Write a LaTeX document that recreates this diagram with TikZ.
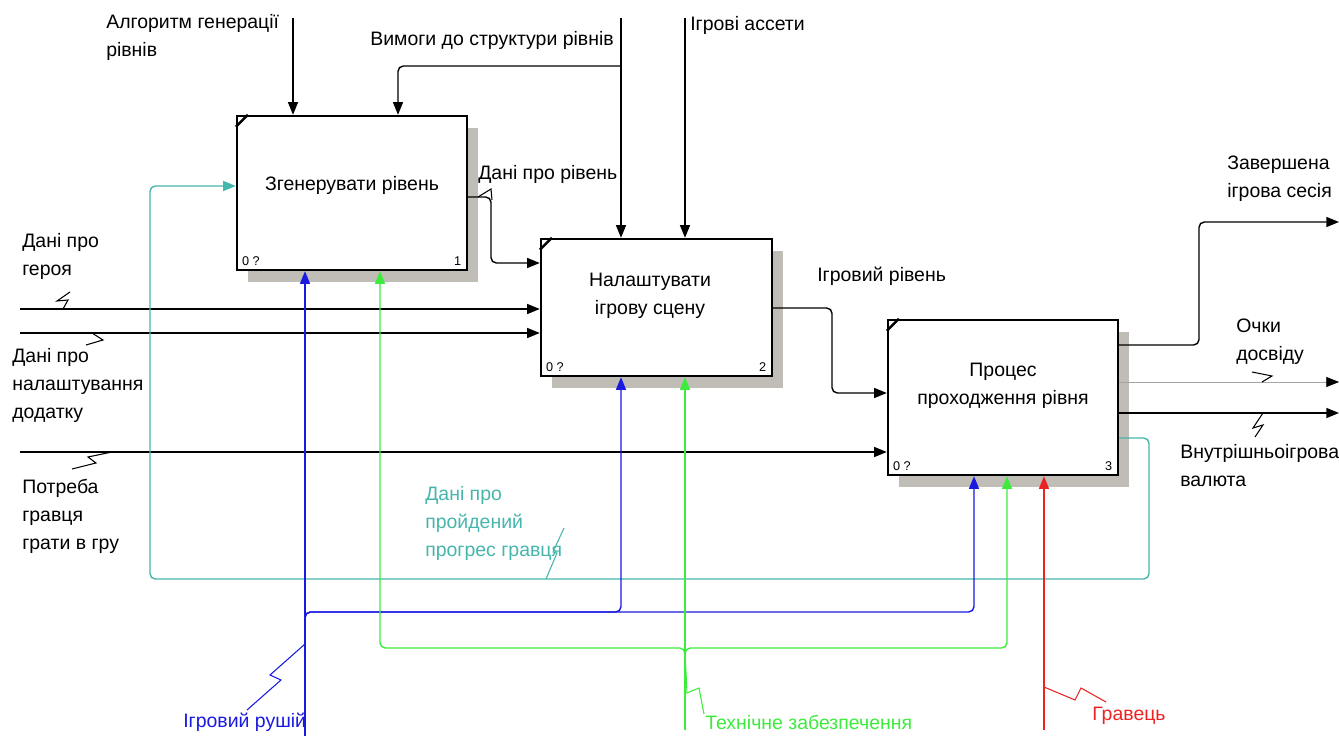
\documentclass[tikz,border=0pt]{standalone}
\usepackage{fontspec}
\setmainfont{Liberation Sans}
\usetikzlibrary{arrows.meta,shadows,calc}
\definecolor{shc}{RGB}{192,188,182}
\definecolor{teal1}{RGB}{70,182,172}
\definecolor{blue1}{RGB}{25,25,225}
\definecolor{green1}{RGB}{60,235,60}
\definecolor{red1}{RGB}{235,35,35}
\definecolor{grey1}{RGB}{165,165,165}
\begin{document}
\begin{tikzpicture}[x=0.75pt,y=-0.75pt,
  box/.style={draw, line width=1.8pt, fill=white, inner sep=0pt,
    drop shadow={shadow xshift=8.5pt, shadow yshift=-9pt, fill=shc, opacity=1}},
  btxt/.style={font=\fontsize{14.6}{21}\selectfont, align=center, inner sep=0pt},
  small/.style={font=\fontsize{9.5}{10}\selectfont, inner sep=0pt},
  arr/.style={-{Triangle[length=9.5pt,width=7.5pt]}, line width=1.05pt, rounded corners=4pt},
  lbl/.style={font=\fontsize{14.6}{21}\selectfont, anchor=west, align=left, inner sep=0pt},
  sq/.style={line width=0.8pt},
  cornermark/.style={line width=1.8pt}
]
\useasboundingbox (0,0) rectangle (1339,738);

% boxes
\node[box, minimum width=172.5pt, minimum height=115.5pt] (b1) at (352,193) {};
\node[box, minimum width=173.25pt, minimum height=102.75pt] (b2) at (656.5,307.5) {};
\node[box, minimum width=172.5pt, minimum height=116.25pt] (b3) at (1003,397.5) {};
\foreach \b in {b1,b2,b3}{
  \draw[cornermark] ([yshift=-9pt]\b.north west) -- ([xshift=9pt]\b.north west);
  \node[small, anchor=south west] at ([xshift=4.5pt,yshift=4pt]\b.south west) {0 ?};
}
\node[small, anchor=south east] at ([xshift=-5pt,yshift=4pt]b1.south east) {1};
\node[small, anchor=south east] at ([xshift=-5pt,yshift=4pt]b2.south east) {2};
\node[small, anchor=south east] at ([xshift=-5pt,yshift=4pt]b3.south east) {3};

\node[btxt] (t1) at (352,185) {Згенерувати рівень};
\node[btxt] (t2) at (650,296) {Налаштувати\\ігрову сцену};
\node[btxt] (t3) at (1003,386) {Процес\\проходження рівня};

% controls
\coordinate (c1) at (293,18);
\draw[arr] (c1) -- (c1 |- b1.north);
\coordinate (c2) at (621,18);
\draw[arr] (c2) -- (c2 |- b2.north);
\draw[arr] (c2 |- 0,66) -- (398,66) -- (b1.north -| 398,0);
\coordinate (c3) at (685,18);
\draw[arr] (c3) -- (c3 |- b2.north);

\node[lbl] (l1) at (106,37) {Алгоритм генерації\\рівнів};
\node[lbl] (l2) at (370,40) {Вимоги до структури рівнів};
\node[lbl] (l3) at (690,25) {Ігрові ассети};

% Дані про рівень
\draw[arr] (b1.east |- 0,197) -- (491,197) -- (491,263) -- (b2.west |- 0,263);
\draw[sq] (478,197) -- (491,189) -- (492,200);
\node[lbl] (l4) at (478,174) {Дані про рівень};

% inputs
\coordinate (i1) at (20,309);
\draw[arr] (i1) -- (b2.west |- i1);
\coordinate (i2) at (20,333);
\draw[arr] (i2) -- (b2.west |- i2);
\coordinate (i3) at (20,452);
\draw[arr] (i3) -- (b3.west |- i3);

\node[lbl] (l5) at (22,256) {Дані про\\героя};
\draw[sq] (70,292) -- (57,301) -- (68,300) -- (63,309);
\node[lbl] (l6) at (12,385) {Дані про\\налаштування\\додатку};
\draw[sq] (92,333) -- (103,340) -- (86,345);
\node[lbl] (l7) at (22,516) {Потреба\\гравця\\грати в гру};
\draw[sq] (112,452) -- (88,457) -- (96,463) -- (72,469);

% Ігровий рівень
\draw[arr] (b2.east |- 0,308) -- (832,308) -- (832,393) -- (b3.west |- 0,393);
\node[lbl] (l8) at (817,276) {Ігровий рівень};

% outputs
\coordinate (o1) at (1339,222);
\draw[arr] (b3.east |- 0,345) -- (1199,345) -- (1199,222) -- (o1);
\coordinate (o2) at (1339,382);
\draw[-{Triangle[length=9.5pt,width=7.5pt,color=black]}, grey1, line width=0.6pt] (b3.east |- o2) -- (o2);
\coordinate (o3) at (1339,413);
\draw[arr] (b3.east |- o3) -- (o3);

\node[lbl] (l9) at (1227,179) {Завершена\\ігрова сесія};
\node[lbl] (l10) at (1236,342) {Очки\\досвіду};
\draw[sq] (1252,372) -- (1272,376) -- (1262,382);
\node[lbl] (l11) at (1180,466) {Внутрішньоігрова\\валюта};
\draw[sq] (1263,413) -- (1253,428) -- (1263,425) -- (1255,437);

% feedback
\draw[arr, teal1] (b3.east |- 0,438) -- (1149,438) -- (1149,579) -- (150,579) -- (150,186) -- (b1.west |- 0,186);
\node[lbl, text=teal1] (l12) at (425,523) {Дані про\\пройдений\\прогрес гравця};
\draw[sq, teal1] (564,528) -- (553,552) -- (557,553) -- (546,579);

% mechanisms
\coordinate (m1) at (305,736);
\draw[arr, blue1] (m1) -- (m1 |- b1.south);
\draw[arr, blue1] (305,640) -- (305,612) -- (621,612) -- (b2.south -| 621,0);
\draw[arr, blue1] (305,640) -- (305,612) -- (974,612) -- (b3.south -| 974,0);
\node[lbl, text=blue1] (l13) at (183,722) {Ігровий рушій};
\draw[sq, blue1] (305,644) -- (270,675) -- (281,680) -- (247,710);

\coordinate (m2) at (685,730);
\draw[arr, green1] (m2) -- (m2 |- b2.south);
\draw[arr, green1] (685,662) -- (685,648) -- (380,648) -- (b1.south -| 380,0);
\draw[arr, green1] (685,662) -- (685,648) -- (1007,648) -- (b3.south -| 1007,0);
\node[lbl, text=green1] (l14) at (705,722) {Технічне забезпечення};
\draw[sq, green1] (685,652) -- (687,693) -- (699,688) -- (704,714);

\coordinate (m3) at (1044,730);
\draw[arr, red1] (m3) -- (m3 |- b3.south);
\node[lbl, text=red1] (l15) at (1092,716) {Гравець};
\draw[sq, red1] (1044,687) -- (1075,700) -- (1081,688) -- (1106,702);
\end{tikzpicture}
\end{document}
